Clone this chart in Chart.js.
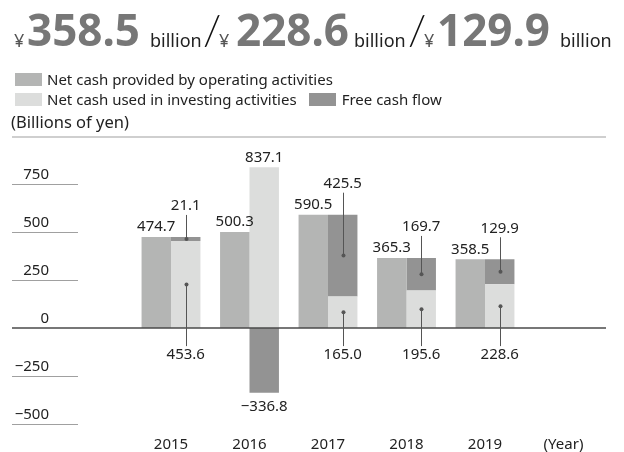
<!DOCTYPE html>
<html>
<head>
<meta charset="utf-8">
<script src="https://cdn.jsdelivr.net/npm/chart.js@4/dist/chart.umd.min.js"></script>
<style>
  html, body { margin: 0; padding: 0; background: #fff; }
  #wrap { position: relative; width: 624px; height: 452px; font-family: "Noto Sans", sans-serif; color: #222; }
  #chart { position: absolute; left: 0; top: 0; }
  .h { position: absolute; white-space: nowrap; line-height: 1.362; }
  .yen { font-size: 18px; color: #555; top: 27.8px; }
  .big { font-size: 44px; font-weight: 700; color: #777; top: -0.5px; }
  .unit { font-size: 18px; color: #222; top: 27.8px; }
  .sl { font-family: "Lato", sans-serif; font-weight: 300; font-size: 42px; color: #111; top: 1px; }
  .legend { position: absolute; left: 15px; font-size: 15px; white-space: nowrap; line-height: 20px; }
  .sw { display: inline-block; width: 27px; height: 13px; vertical-align: -1px; margin-right: 5px; }
  .unitlabel { position: absolute; left: 11px; top: 112px; font-size: 16.5px; line-height: 20px; }
</style>
</head>
<body>
<div id="wrap">
  <canvas id="chart" width="624" height="452"></canvas>
  <span class="h yen" style="left:14px">¥</span>
  <span class="h big" style="left:27px">358.5</span>
  <span class="h unit" style="left:150px">billion</span>
  <span class="h sl" style="left:203px">/</span>
  <span class="h yen" style="left:219px">¥</span>
  <span class="h big" style="left:236px">228.6</span>
  <span class="h unit" style="left:354px">billion</span>
  <span class="h sl" style="left:408px">/</span>
  <span class="h yen" style="left:424px">¥</span>
  <span class="h big" style="left:437px">129.9</span>
  <span class="h unit" style="left:560px">billion</span>
  <div class="legend" style="top:69px"><span class="sw" style="background:#b4b5b4"></span>Net cash provided by operating activities</div>
  <div class="legend" style="top:89px"><span class="sw" style="background:#dcdddc"></span>Net cash used in investing activities<span class="sw" style="background:#939393;margin-left:12px;margin-right:6px"></span>Free cash flow</div>
  <div class="unitlabel">(Billions of yen)</div>
</div>
<script>
// data
const years = ['2015', '2016', '2017', '2018', '2019', '(Year)'];
const operating = [474.7, 500.3, 590.5, 365.3, 358.5, null];
const investing = [453.6, 837.1, 165.0, 195.6, 228.6, null];
const freeCash = [21.1, -336.8, 425.5, 169.7, 129.9, null];
const yTicks = [750, 500, 250, 0, -250, -500];

const colOperating = '#b4b5b4';
const colInvesting = '#dcdddc';
const colFree = '#939393';
const lineCol = '#555';
const textCol = '#222';
const font = '15px "Noto Sans", sans-serif';

function fmt(v) {
  return (v < 0 ? '\u2212' : '') + Math.abs(v).toFixed(1);
}

// short gridlines on the left, the top rule and the zero line
const framePlugin = {
  id: 'frame',
  beforeDatasetsDraw(chart) {
    const ctx = chart.ctx;
    const y = chart.scales.y;
    const area = chart.chartArea;
    ctx.save();
    ctx.strokeStyle = '#cfcfcf';
    ctx.lineWidth = 2;
    ctx.beginPath();
    ctx.moveTo(12, area.top);
    ctx.lineTo(606, area.top);
    ctx.stroke();

    ctx.font = font;
    ctx.fillStyle = textCol;
    ctx.textAlign = 'right';
    ctx.textBaseline = 'middle';
    yTicks.forEach(v => {
      const py = Math.round(y.getPixelForValue(v)) + 0.5;
      if (v !== 0) {
        ctx.strokeStyle = '#a0a0a0';
        ctx.lineWidth = 1;
        ctx.beginPath();
        ctx.moveTo(12, py);
        ctx.lineTo(78, py);
        ctx.stroke();
      }
      ctx.fillText(fmt(v).replace('.0', ''), 49, py - 9.5);
    });
    ctx.restore();
  },
  afterDatasetsDraw(chart) {
    const ctx = chart.ctx;
    const zero = chart.scales.y.getPixelForValue(0);
    ctx.save();
    ctx.strokeStyle = '#4a4a4a';
    ctx.lineWidth = 1.5;
    ctx.beginPath();
    ctx.moveTo(12, zero);
    ctx.lineTo(606, zero);
    ctx.stroke();
    ctx.restore();
  }
};

// value labels with leader lines
const labelPlugin = {
  id: 'labels',
  afterDatasetsDraw(chart) {
    const ctx = chart.ctx;
    const zero = chart.scales.y.getPixelForValue(0);
    const opMeta = chart.getDatasetMeta(0).data;
    const invMeta = chart.getDatasetMeta(1).data;
    const fcfMeta = chart.getDatasetMeta(2).data;

    ctx.save();
    ctx.font = font;
    ctx.fillStyle = textCol;
    ctx.textAlign = 'center';
    ctx.textBaseline = 'middle';

    function leader(x, y1, y2) {
      ctx.strokeStyle = lineCol;
      ctx.lineWidth = 1;
      ctx.beginPath();
      ctx.moveTo(Math.round(x) + 0.5, y1);
      ctx.lineTo(Math.round(x) + 0.5, y2);
      ctx.stroke();
      ctx.fillStyle = lineCol;
      ctx.beginPath();
      ctx.arc(Math.round(x) + 0.5, y2, 2, 0, Math.PI * 2);
      ctx.fill();
      ctx.fillStyle = textCol;
    }

    years.forEach((yr, i) => {
      if (operating[i] == null) return;
      const op = opMeta[i];
      ctx.fillText(fmt(operating[i]), op.x, op.y - 10);

      const inv = invMeta[i];
      const fcf = fcfMeta[i];
      if (freeCash[i] < 0) {
        ctx.fillText(fmt(investing[i]), inv.x, inv.y - 10);
        ctx.fillText(fmt(freeCash[i]), fcf.x, fcf.y + 14);
      } else {
        const invMid = (inv.y + inv.base) / 2;
        leader(inv.x, zero + 18, invMid);
        ctx.fillText(fmt(investing[i]), inv.x, zero + 27);

        const fcfMid = (fcf.y + fcf.base) / 2;
        const ly = fcf.y - 31;
        leader(fcf.x, ly + 9, fcfMid);
        ctx.fillText(fmt(freeCash[i]), fcf.x, ly);
      }
    });
    ctx.restore();
  }
};

const ctx = document.getElementById('chart').getContext('2d');
new Chart(ctx, {
  type: 'bar',
  data: {
    labels: years,
    datasets: [
      {label: 'Net cash provided by operating activities', data: operating, backgroundColor: colOperating, stack: 'op'},
      {label: 'Net cash used in investing activities', data: investing, backgroundColor: colInvesting, stack: 'cf'},
      {label: 'Free cash flow', data: freeCash, backgroundColor: colFree, stack: 'cf'}
    ]
  },
  options: {
    responsive: false,
    animation: false,
    events: [],
    layout: {padding: {left: 131.75, right: 21.25, top: 137, bottom: -2}},
    datasets: {bar: {categoryPercentage: 0.75, barPercentage: 1.0, borderWidth: 0}},
    plugins: {legend: {display: false}, tooltip: {enabled: false}},
    scales: {
      x: {
        stacked: true,
        grid: {display: false},
        border: {display: false},
        ticks: {color: textCol, font: {family: 'Noto Sans', size: 15}, padding: 0}
      },
      y: {
        display: false,
        stacked: true,
        min: -520,
        max: 995
      }
    }
  },
  plugins: [framePlugin, labelPlugin]
});
</script>
</body>
</html>
